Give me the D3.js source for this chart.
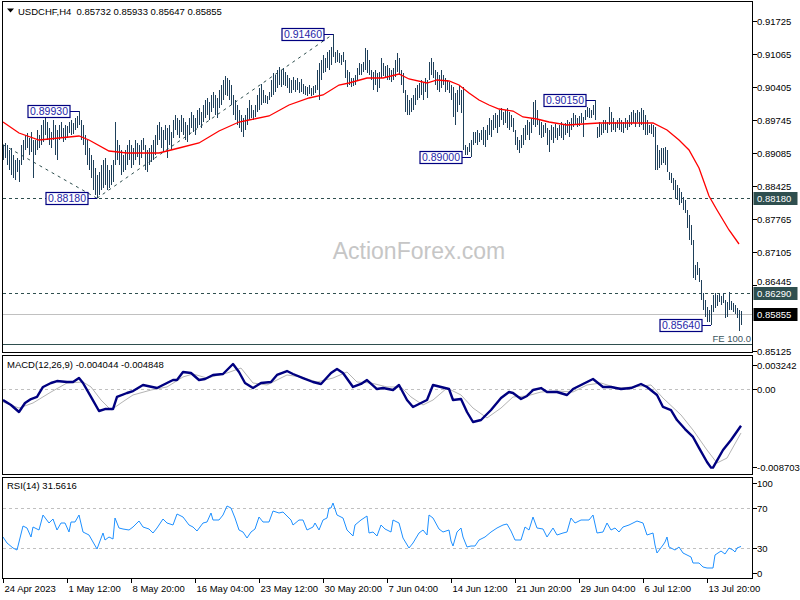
<!DOCTYPE html>
<html><head><meta charset="utf-8">
<script src="https://cdn.jsdelivr.net/npm/d3@7"></script>
<style>
html,body{margin:0;padding:0;background:#fff;}
svg{display:block;font-family:"Liberation Sans",Arial,sans-serif;}
</style></head><body>
<svg id="c" width="800" height="600"></svg>
<script>
// ---- H4 bars (high / low), oldest to newest ----
const highs = [
0.89245,0.89285,0.89245,0.89145,0.89185,0.89045,0.88945,0.88985,0.88945,0.89245,
0.89345,0.89445,0.89485,0.89385,0.89505,0.89345,0.89345,0.89545,0.89445,0.89645,
0.89745,0.89785,0.89705,0.89585,0.89505,0.89745,0.89645,0.89545,0.89645,0.89705,
0.89585,0.89645,0.89625,0.89705,0.89745,0.89685,0.89785,0.89825,0.89930,0.89745,
0.89645,0.89445,0.89345,0.89185,0.89045,0.88945,0.88785,0.88645,0.88705,0.88845,
0.88945,0.88985,0.88845,0.88745,0.88845,0.88945,0.89705,0.89345,0.89245,0.89145,
0.89045,0.89145,0.89245,0.89345,0.89245,0.89185,0.89345,0.89285,0.89245,0.89345,
0.89385,0.89245,0.89145,0.89185,0.89245,0.89345,0.89445,0.89645,0.89705,0.89605,
0.89545,0.89645,0.89585,0.89645,0.89505,0.89745,0.89845,0.89785,0.89745,0.89845,
0.89785,0.89705,0.89645,0.89785,0.89905,0.89845,0.89785,0.89945,0.89985,0.89905,
0.90045,0.90145,0.90185,0.90105,0.90245,0.90305,0.90245,0.90185,0.90345,0.90445,
0.90545,0.90625,0.90585,0.90545,0.90445,0.90245,0.90145,0.90045,0.89945,0.89845,
0.89785,0.89845,0.89985,0.90145,0.90045,0.89945,0.90045,0.90245,0.90385,0.90465,
0.90345,0.90245,0.90225,0.90305,0.90545,0.90685,0.90645,0.90745,0.90805,0.90745,
0.90785,0.90705,0.90645,0.90585,0.90545,0.90605,0.90545,0.90585,0.90505,0.90565,
0.90465,0.90425,0.90405,0.90445,0.90385,0.90425,0.90445,0.90745,0.90885,0.90945,
0.91045,0.90985,0.91105,0.91145,0.91205,0.91460,0.91105,0.91145,0.91085,0.91045,
0.91105,0.90945,0.90745,0.90705,0.90585,0.90585,0.90645,0.90785,0.90885,0.90865,
0.90905,0.91185,0.91145,0.90945,0.90745,0.90705,0.90745,0.90685,0.90705,0.90985,
0.90885,0.90825,0.90845,0.90785,0.90745,0.90785,0.90945,0.91085,0.90985,0.90745,
0.90685,0.90345,0.90245,0.90145,0.90185,0.90245,0.90385,0.90445,0.90485,0.90545,
0.90505,0.90585,0.90545,0.90905,0.90985,0.90905,0.90745,0.90705,0.90645,0.90745,
0.90645,0.90585,0.90545,0.90505,0.90445,0.90405,0.90285,0.90345,0.90445,0.90345,
0.90405,0.89245,0.89205,0.89285,0.89345,0.89505,0.89505,0.89545,0.89485,0.89545,
0.89605,0.89545,0.89645,0.89785,0.89745,0.89845,0.89885,0.89845,0.89945,0.89985,
0.89905,0.89945,0.89985,0.89905,0.89845,0.89785,0.89545,0.89405,0.89345,0.89445,
0.89585,0.89645,0.89745,0.89705,0.89785,0.90105,0.90145,0.89945,0.89745,0.89705,
0.89645,0.89685,0.89585,0.89545,0.89645,0.89605,0.89665,0.89585,0.89645,0.89705,
0.89645,0.89685,0.89745,0.89705,0.89785,0.89885,0.89845,0.89785,0.89825,0.89885,
0.89805,0.89945,0.90005,0.89985,0.89945,0.90045,0.90150,0.89605,0.89705,0.89665,
0.89745,0.89745,0.89705,0.90005,0.89905,0.89785,0.89705,0.89745,0.89785,0.89745,
0.89705,0.89785,0.89745,0.89845,0.89905,0.89945,0.89885,0.89945,0.89905,0.89985,
0.89945,0.89845,0.89745,0.89645,0.89665,0.89645,0.89605,0.89245,0.89145,0.89185,
0.89185,0.89205,0.89145,0.88705,0.88685,0.88585,0.88545,0.88445,0.88385,0.88305,
0.88205,0.88145,0.87945,0.87845,0.87645,0.87345,0.86845,0.86905,0.86785,0.86545,
0.86285,0.86145,0.86005,0.85945,0.86045,0.86245,0.86285,0.86245,0.86265,0.86225,
0.86285,0.86145,0.86105,0.86305,0.86125,0.86085,0.86045,0.85985,0.85945,0.85933
];
const lows = [
0.88945,0.88985,0.88845,0.88745,0.88645,0.88585,0.88545,0.88705,0.88505,0.88845,
0.88945,0.89145,0.89185,0.89045,0.89105,0.88585,0.89045,0.89145,0.89185,0.89245,
0.89305,0.89445,0.89345,0.89245,0.89185,0.89345,0.89045,0.88945,0.89345,0.89385,
0.89305,0.89345,0.89385,0.89485,0.89445,0.89465,0.89545,0.89585,0.89645,0.89345,
0.89245,0.89045,0.88845,0.88745,0.88585,0.88345,0.88245,0.88180,0.88245,0.88345,
0.88385,0.88445,0.88345,0.88385,0.88445,0.88505,0.88845,0.88945,0.88845,0.88645,
0.88705,0.88745,0.88845,0.88945,0.88785,0.88845,0.88945,0.89005,0.88845,0.88985,
0.89145,0.88745,0.88705,0.88845,0.88905,0.88945,0.89045,0.89245,0.89345,0.89185,
0.89105,0.89345,0.88985,0.89245,0.89145,0.89385,0.89545,0.89445,0.89385,0.89505,
0.89445,0.89345,0.89305,0.89445,0.89585,0.89505,0.89445,0.89585,0.89645,0.89585,
0.89705,0.89785,0.89845,0.89745,0.89905,0.89985,0.89845,0.89785,0.89985,0.90045,
0.90145,0.90245,0.90225,0.90145,0.90045,0.89845,0.89745,0.89645,0.89585,0.89505,
0.89405,0.89545,0.89645,0.89745,0.89785,0.89745,0.89805,0.89905,0.89945,0.90045,
0.90085,0.90085,0.90065,0.90145,0.90205,0.90245,0.90305,0.90385,0.90445,0.90405,
0.90445,0.90425,0.90385,0.90285,0.90285,0.90345,0.90305,0.90345,0.90285,0.90305,
0.90265,0.90245,0.90225,0.90265,0.90225,0.90245,0.90285,0.90345,0.90145,0.90545,
0.90685,0.90705,0.90785,0.90745,0.90845,0.91005,0.90885,0.90905,0.90885,0.90845,
0.90905,0.90585,0.90405,0.90445,0.90405,0.90425,0.90445,0.90545,0.90645,0.90645,
0.90705,0.90745,0.90685,0.90645,0.90545,0.90345,0.90445,0.90305,0.90385,0.90585,
0.90625,0.90585,0.90545,0.90545,0.90505,0.90545,0.90605,0.90705,0.90645,0.90445,
0.90285,0.89905,0.89845,0.89845,0.89905,0.89945,0.90045,0.90145,0.90185,0.90245,
0.90145,0.90305,0.90185,0.90545,0.90645,0.90585,0.90445,0.90345,0.90305,0.90385,
0.90445,0.90305,0.90345,0.90285,0.90145,0.89805,0.89645,0.89905,0.90045,0.89885,
0.89145,0.89045,0.89045,0.89105,0.89000,0.89245,0.89285,0.89245,0.89305,0.89345,
0.89245,0.89205,0.89345,0.89445,0.89405,0.89545,0.89585,0.89485,0.89605,0.89745,
0.89645,0.89685,0.89585,0.89545,0.89605,0.89505,0.89245,0.89145,0.89085,0.89185,
0.89245,0.89345,0.89445,0.89345,0.89485,0.89645,0.89605,0.89645,0.89445,0.89385,
0.89405,0.89485,0.89245,0.89105,0.89345,0.89285,0.89385,0.89345,0.89425,0.89385,
0.89345,0.89445,0.89485,0.89405,0.89545,0.89605,0.89645,0.89605,0.89625,0.89685,
0.89405,0.89745,0.89805,0.89785,0.89785,0.89845,0.89745,0.89385,0.89405,0.89445,
0.89485,0.89545,0.89485,0.89645,0.89505,0.89545,0.89505,0.89585,0.89545,0.89505,
0.89485,0.89585,0.89545,0.89605,0.89645,0.89685,0.89605,0.89705,0.89605,0.89645,
0.89545,0.89445,0.89445,0.89485,0.89465,0.89405,0.88745,0.88745,0.88785,0.88845,
0.88885,0.88845,0.88705,0.88545,0.88485,0.88345,0.88185,0.88145,0.88045,0.88085,
0.87945,0.87885,0.87585,0.87345,0.87245,0.86585,0.86545,0.86645,0.86505,0.86145,
0.85945,0.85805,0.85705,0.85705,0.85640,0.85905,0.85985,0.86025,0.86105,0.86045,
0.86085,0.85785,0.85805,0.85945,0.85945,0.85905,0.85865,0.85785,0.85525,0.85647
];

// ---- red moving average (bar index, value) ----
const maIdx = [0,8,18,28,38,43,53,62,73,78,88,98,108,118,123,133,143,153,160,168,173,182,190,198,203,212,217,223,228,233,238,243,248,255,260,267,273,282,290,298,307,315,325,332,338,343,348,353,357,363,368];
const maVal = [0.89705,0.89485,0.89345,0.89385,0.89425,0.89345,0.89125,0.89085,0.89085,0.89085,0.89185,0.89285,0.89525,0.89705,0.89745,0.89825,0.90045,0.90185,0.90245,0.90445,0.90485,0.90585,0.90585,0.90665,0.90565,0.90485,0.90545,0.90525,0.90445,0.90285,0.90145,0.90045,0.89965,0.89925,0.89805,0.89765,0.89705,0.89645,0.89665,0.89685,0.89685,0.89685,0.89685,0.89545,0.89345,0.89145,0.88785,0.88225,0.87945,0.87545,0.87265];

// ---- MACD(12,26,9) main line ----
const macdIdx = [0,4,8,11,14,17,20,24,27,32,35,38,40,44,48,51,55,57,62,65,70,77,80,85,87,90,94,98,101,105,110,115,118,121,125,129,134,137,142,145,150,155,159,164,167,170,175,179,182,187,190,195,198,202,205,209,212,215,219,223,225,229,232,235,239,244,249,253,255,259,262,265,269,272,277,282,285,290,295,300,304,309,314,319,322,327,330,334,337,341,345,348,352,354,355,360,364,369];
const macdVal = [-0.00119,-0.00174,-0.00252,-0.00152,-0.00108,-0.00085,0.00026,0.00070,0.00092,0.00081,0.00081,0.00125,0.00070,-0.00085,-0.00241,-0.00219,-0.00219,-0.00085,-0.00041,-0.00019,0.00048,0.00014,0.00048,0.00103,0.00103,0.00192,0.00181,0.00103,0.00114,0.00159,0.00170,0.00281,0.00192,0.00070,0.00014,0.00070,0.00081,0.00159,0.00203,0.00170,0.00125,0.00081,0.00059,0.00181,0.00225,0.00181,0.00026,0.00059,0.00103,0.00003,0.00014,-0.00008,0.00048,-0.00119,-0.00196,-0.00152,-0.00119,0.00048,0.00026,0.00003,-0.00119,-0.00108,-0.00252,-0.00363,-0.00341,-0.00230,-0.00097,-0.00030,-0.00041,-0.00108,-0.00074,-0.00008,0.00014,-0.00030,-0.00030,-0.00063,0.00003,0.00059,0.00114,0.00026,0.00026,0.00003,0.00014,0.00059,0.00026,-0.00063,-0.00196,-0.00230,-0.00341,-0.00441,-0.00529,-0.00651,-0.00807,-0.00870,-0.00870,-0.00674,-0.00563,-0.004044];
// ---- MACD signal line ----
const sigIdx = [0,8,15,24,32,40,44,49,54,59,65,74,82,90,95,102,112,119,125,132,142,149,157,165,172,177,184,192,199,204,210,215,222,229,235,242,249,255,262,269,277,285,292,299,307,315,324,330,339,345,352,357,362,369];
const sigVal = [-0.00141,-0.00208,-0.00152,-0.00030,0.00070,0.00081,0.00026,-0.00119,-0.00230,-0.00152,-0.00063,-0.00008,0.00026,0.00137,0.00170,0.00125,0.00181,0.00236,0.00070,0.00048,0.00159,0.00137,0.00081,0.00125,0.00192,0.00081,0.00070,0.00026,0.00026,-0.00085,-0.00174,-0.00119,0.00014,-0.00063,-0.00208,-0.00318,-0.00208,-0.00085,-0.00074,-0.00030,-0.00019,-0.00030,0.00048,0.00070,0.00014,0.00026,0.00048,-0.00097,-0.00285,-0.00452,-0.00674,-0.00818,-0.00763,-0.004848];

// ---- RSI(14) ----
const rsiIdx = [0,2,5,7,10,12,14,15,18,20,23,25,27,29,31,33,34,36,38,40,43,45,47,50,51,53,55,56,58,60,63,65,68,70,73,75,77,80,82,85,87,90,93,95,97,100,102,104,105,108,110,112,114,116,118,120,122,124,126,128,130,133,135,138,140,144,145,148,150,152,155,156,158,160,162,163,164,165,167,170,172,175,176,179,182,183,185,187,189,191,194,195,198,200,203,205,208,210,212,213,215,218,220,223,224,225,227,229,230,232,234,236,238,241,244,247,250,252,254,256,259,261,263,265,267,270,272,275,277,280,282,284,286,289,291,293,295,297,300,302,304,306,308,310,313,315,317,320,322,325,326,327,330,331,332,333,336,338,340,342,344,345,348,350,352,355,356,359,361,363,365,366,367,369];
const rsiVal = [41,35,30,28,52,50,41,51,48,63,55,59,48,55,55,46,56,56,63,46,43,36,29,45,38,41,39,60,50,49,48,51,57,51,49,45,50,59,55,53,64,61,53,51,47,55,56,65,58,58,63,72,70,60,48,46,40,46,49,61,56,56,67,65,66,58,53,58,58,48,51,55,48,58,60,70,70,75,63,60,48,42,53,58,62,45,46,42,53,49,46,58,55,40,30,35,45,48,43,63,60,49,46,48,37,32,46,50,41,31,32,32,38,41,46,50,53,54,47,38,38,51,48,61,50,49,41,50,43,45,46,60,55,58,58,58,63,45,46,55,48,50,46,51,53,55,57,55,43,45,33,25,33,36,41,31,28,31,25,23,21,15,15,11,10,10,23,27,24,30,28,26,30,31.5616];

// ---- axes / texts ----
const priceTicks = [0.91725,0.91065,0.90405,0.89745,0.89085,0.88425,0.87765,0.87105,0.86445,0.85125];
const dateIdx = [0,32,64,96,128,160,192,224,256,288,320,352];
const dateLabels = ["24 Apr 2023","1 May 12:00","8 May 20:00","16 May 04:00","23 May 12:00","30 May 20:00","7 Jun 04:00","14 Jun 12:00","21 Jun 20:00","29 Jun 04:00","6 Jul 12:00","13 Jul 20:00"];
const noteIdx = [38,47,165,234,296,354];
const notePrice = [0.8993,0.8818,0.9146,0.8900,0.9015,0.8564];
const levelPrices = [0.8818,0.8629];
const lastPrice = 0.85855;
const fePrice = 0.85265;
const trendA = [[0,0.8925],[47,0.8818]];
const trendB = [[47,0.8818],[165,0.9146]];
const macdTicks = [0.003242,0,-0.008703];
const macdTickLabels = ["0.003242","0.00","-0.008703"];
const rsiTicks = [100,70,30,0];

// ---------------------------------------------------------------
const svg = d3.select('#c');
const f5 = d3.format('.5f');
const N = highs.length;
const x = d3.scaleLinear().domain([0, N-1]).range([3, 741]);
const y = d3.scaleLinear().domain([0.91725, 0.85125]).range([21, 351]);
const ym = d3.scaleLinear().domain([0.003242, -0.008703]).range([360.1, 467.7]);
const yr = d3.scaleLinear().domain([100, 0]).range([478, 578]);
const L = 2.5, R = 752.5;
const panels = {p:[1.5,352.5], m:[355.5,474.5], r:[477.5,578.5]};

svg.append('rect').attr('width',800).attr('height',600).attr('fill','#fff');
const defs = svg.append('defs');
Object.entries(panels).forEach(([k,[t,b]])=>{
  defs.append('clipPath').attr('id','clip'+k).append('rect')
    .attr('x',L+0.5).attr('y',t+0.5).attr('width',R-L-1).attr('height',b-t-1);
});

// ===== price panel =====
const gp = svg.append('g').attr('clip-path','url(#clipp)');
gp.append('text').attr('x',419).attr('y',259).attr('text-anchor','middle')
  .attr('font-size',23).attr('fill','#c6c6c6').text('ActionForex.com');

// level lines
gp.selectAll('.lvl').data(levelPrices).join('line')
  .attr('x1',L).attr('x2',R).attr('y1',d=>Math.round(y(d))+0.5).attr('y2',d=>Math.round(y(d))+0.5)
  .attr('stroke','#2F4F4F').attr('stroke-dasharray','3,3').attr('shape-rendering','crispEdges');
gp.append('line').attr('x1',L).attr('x2',R)
  .attr('y1',Math.round(y(lastPrice))+0.5).attr('y2',Math.round(y(lastPrice))+0.5)
  .attr('stroke','#C0C0C0').attr('shape-rendering','crispEdges');
gp.append('line').attr('x1',L).attr('x2',R)
  .attr('y1',Math.round(y(fePrice))+0.5).attr('y2',Math.round(y(fePrice))+0.5)
  .attr('stroke','#2F4F4F').attr('shape-rendering','crispEdges');
gp.append('text').attr('x',751).attr('y',y(fePrice)-2.5).attr('text-anchor','end')
  .attr('font-size',9.5).attr('fill','#3a5560').text('FE 100.0');

// trend lines
const tl = d3.line().x(d=>x(d[0])).y(d=>y(d[1]));
[trendA,trendB].forEach(t=>{
  gp.append('path').attr('d',tl(t)).attr('fill','none')
    .attr('stroke','#2F4F4F').attr('stroke-dasharray','3,4');
});

// bars
gp.append('g').selectAll('line').data(highs).join('line')
  .attr('x1',(d,i)=>Math.round(x(i))+0.5).attr('x2',(d,i)=>Math.round(x(i))+0.5)
  .attr('y1',d=>y(d)).attr('y2',(d,i)=>y(lows[i]))
  .attr('stroke','#1f405a').attr('stroke-width',1).attr('shape-rendering','crispEdges');

// moving average
const maData = maIdx.map((d,i)=>[d,maVal[i]]);
gp.append('path').attr('d',d3.line().x(d=>x(d[0])).y(d=>y(d[1]))(maData))
  .attr('fill','none').attr('stroke','#ff0000').attr('stroke-width',1.3);

// note labels
noteIdx.forEach((bi,k)=>{
  const bx = x(bi), py = Math.round(y(notePrice[k]))+0.5;
  const right = bx - 9, w = 42, h = 12;
  gp.append('line').attr('x1',right).attr('x2',bx).attr('y1',py).attr('y2',py)
    .attr('stroke','#000080').attr('shape-rendering','crispEdges');
  gp.append('rect').attr('x',right-w).attr('y',py-h/2).attr('width',w).attr('height',h)
    .attr('fill','#fff').attr('stroke','#000080').attr('stroke-width',1.2);
  gp.append('text').attr('x',right-w/2).attr('y',py+3.8).attr('text-anchor','middle')
    .attr('font-size',10.5).attr('fill','#2626a8').text(f5(notePrice[k]));
});

// title
svg.append('path').attr('d','M7,8.5 L14,8.5 L10.5,12.5 Z').attr('fill','#000');
svg.append('text').attr('x',18).attr('y',14.5).attr('font-size',9.5).attr('fill','#000')
  .attr('xml:space','preserve')
  .text('USDCHF,H4  0.85732 0.85933 0.85647 0.85855');

// ===== MACD panel =====
const gm = svg.append('g').attr('clip-path','url(#clipm)');
gm.append('line').attr('x1',L).attr('x2',R).attr('y1',Math.round(ym(0))+0.5).attr('y2',Math.round(ym(0))+0.5)
  .attr('stroke','#C0C0C0').attr('stroke-dasharray','3,3').attr('shape-rendering','crispEdges');
const sigData = sigIdx.map((d,i)=>[d,sigVal[i]]);
const macdData = macdIdx.map((d,i)=>[d,macdVal[i]]);
const lm = d3.line().x(d=>x(d[0])).y(d=>ym(d[1]));
gm.append('path').attr('d',lm(sigData)).attr('fill','none').attr('stroke','#b4b4b4').attr('stroke-width',1);
gm.append('path').attr('d',lm(macdData)).attr('fill','none').attr('stroke','#000080').attr('stroke-width',2.4)
  .attr('stroke-linejoin','round');
svg.append('text').attr('x',7).attr('y',368).attr('font-size',9.5).attr('fill','#000')
  .text('MACD(12,26,9) -0.004044 -0.004848');

// ===== RSI panel =====
const gr = svg.append('g').attr('clip-path','url(#clipr)');
[70,30].forEach(v=>{
  gr.append('line').attr('x1',L).attr('x2',R).attr('y1',Math.round(yr(v))+0.5).attr('y2',Math.round(yr(v))+0.5)
    .attr('stroke','#C0C0C0').attr('stroke-dasharray','3,3').attr('shape-rendering','crispEdges');
});
const rsiData = rsiIdx.map((d,i)=>[d,rsiVal[i]]);
gr.append('path').attr('d',d3.line().x(d=>x(d[0])).y(d=>yr(d[1]))(rsiData))
  .attr('fill','none').attr('stroke','#1E90FF').attr('stroke-width',1);
svg.append('text').attr('x',7).attr('y',488.5).attr('font-size',9.5).attr('fill','#000')
  .text('RSI(14) 31.5616');

// ===== panel frames =====
Object.values(panels).forEach(([t,b])=>{
  svg.append('rect').attr('x',L).attr('y',t).attr('width',R-L).attr('height',b-t)
    .attr('fill','none').attr('stroke','#000').attr('shape-rendering','crispEdges');
});

// ===== right axis labels =====
const ax = svg.append('g').attr('font-size',9.5).attr('fill','#000');
priceTicks.forEach(p=>{
  const py = Math.round(y(p))+0.5;
  ax.append('line').attr('x1',R).attr('x2',R+4).attr('y1',py).attr('y2',py).attr('stroke','#000').attr('shape-rendering','crispEdges');
  // the 0.86445 label sits just above the 0.86290 marker box
  const ty = (p === 0.86445) ? py - 4 : py;
  ax.append('text').attr('x',757).attr('y',ty+3.5).text(f5(p));
});
[[levelPrices[0],'#2F4F4F'],[levelPrices[1],'#2F4F4F'],[lastPrice,'#000']].forEach(([p,bg])=>{
  const py = Math.round(y(p))+0.5;
  ax.append('rect').attr('x',R+1).attr('y',py-6.5).attr('width',44).attr('height',13).attr('fill',bg);
  ax.append('text').attr('x',757).attr('y',py+3.5).attr('fill','#fff').text(f5(p));
});
macdTicks.forEach((v,k)=>{
  const py = Math.round(ym(v))+0.5;
  const ty = k===0 ? 365 : (k===2 ? 467 : py);
  ax.append('line').attr('x1',R).attr('x2',R+4).attr('y1',ty).attr('y2',ty).attr('stroke','#000').attr('shape-rendering','crispEdges');
  ax.append('text').attr('x',757).attr('y',ty+3.5).text(macdTickLabels[k]);
});
rsiTicks.forEach(v=>{
  const py = Math.round(yr(v))+0.5;
  const ty = v===100 ? 483 : (v===0 ? 573 : py);
  ax.append('line').attr('x1',R).attr('x2',R+4).attr('y1',ty).attr('y2',ty).attr('stroke','#000').attr('shape-rendering','crispEdges');
  ax.append('text').attr('x',757).attr('y',ty+3.5).text(String(v));
});

// ===== date axis =====
const dx = svg.append('g').attr('font-size',9.5).attr('fill','#000');
dateIdx.forEach((di,k)=>{
  const tx = Math.round(x(di))+0.5;
  dx.append('line').attr('x1',tx).attr('x2',tx).attr('y1',578.5).attr('y2',583).attr('stroke','#000').attr('shape-rendering','crispEdges');
  dx.append('text').attr('x',tx+1).attr('y',592).text(dateLabels[k]);
});
</script>
</body></html>
